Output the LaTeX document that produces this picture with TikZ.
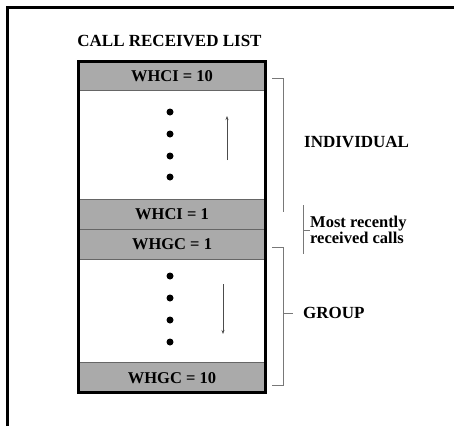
\documentclass[tikz,border=0pt]{standalone}
\usepackage{fontspec}
\setmainfont{Liberation Serif}
\usetikzlibrary{arrows.meta,calc}
\definecolor{bandgray}{RGB}{170,170,170}
\definecolor{brk}{RGB}{120,120,120}
\begin{document}
\begin{tikzpicture}[x=1pt,y=-1pt,
  lbl/.style={font=\bfseries\fontsize{16.5}{17}\selectfont, inner sep=0pt},
  side/.style={font=\bfseries\fontsize{17}{18}\selectfont, inner sep=0pt, anchor=west},
  band/.style={fill=bandgray, draw=black!60, line width=0.8pt},
  dotc/.style={circle, fill=black, inner sep=0pt, minimum size=7pt},
  brack/.style={draw=brk, line width=0.9pt},
  arr/.style={draw=black!70, line width=0.7pt, -{Stealth[length=4pt,width=3pt]}}]
\useasboundingbox (0,0) rectangle (454,426);
% frame
\draw[line width=3pt] (7,426) -- (7,7) -- (454,7);
% title
\node[font=\bfseries\fontsize{17}{18}\selectfont, inner sep=0pt] (title) at (169.5,41) {CALL RECEIVED LIST};
% bands
\path[band] (78.5,61.5) rectangle (265.5,90);
\path[band] (78.5,199) rectangle (265.5,229);
\path[band] (78.5,229) rectangle (265.5,259);
\path[band] (78.5,362) rectangle (265.5,392.5);
\draw[line width=3pt] (78.5,61.5) rectangle (265.5,392.5);
\node[lbl] (b1) at (172,76) {WHCI = 10};
\node[lbl] (b2) at (172,214) {WHCI = 1};
\node[lbl] (b3) at (172,244) {WHGC = 1};
\node[lbl] (b4) at (172,378) {WHGC = 10};
% dots
\foreach \y [count=\i] in {112,134,156,177} \node[dotc] (u\i) at (170,\y) {};
\foreach \y [count=\i] in {276,298,320,342} \node[dotc] (l\i) at (170,\y) {};
% arrows
\coordinate (ua1) at (227,160); \coordinate (ua2) at (227,116);
\draw[arr] (ua1) -- (ua2);
\coordinate (da1) at (223,284); \coordinate (da2) at (223,334);
\draw[arr] (da1) -- (da2);
% brackets
\node[side] (ind) at (304,142) {INDIVIDUAL};
\node[side] (grp) at (303,313) {GROUP};
\node[font=\bfseries\fontsize{16.5}{16}\selectfont, inner sep=0pt, anchor=west, align=left] (most) at (310,230) {Most recently\\received calls};
\coordinate (i1) at (272,78); \coordinate (i2) at (283,78); \coordinate (i3) at (283,212);
\draw[brack] (i1) -- (i2) -- (i3);
\coordinate (m1) at (303,205); \coordinate (m2) at (303,254); \coordinate (m3) at (303,230);
\draw[brack] (m1) -- (m2);
\draw[brack] (m3) -- (most.west);
\coordinate (g1) at (272,247); \coordinate (g2) at (283,247); \coordinate (g3) at (283,385); \coordinate (g4) at (272,385); \coordinate (g5) at (283,313);
\coordinate (g6) at (293,313);
\draw[brack] (g1) -- (g2) -- (g3) -- (g4);
\draw[brack] (g5) -- (g6);
\end{tikzpicture}
\end{document}
